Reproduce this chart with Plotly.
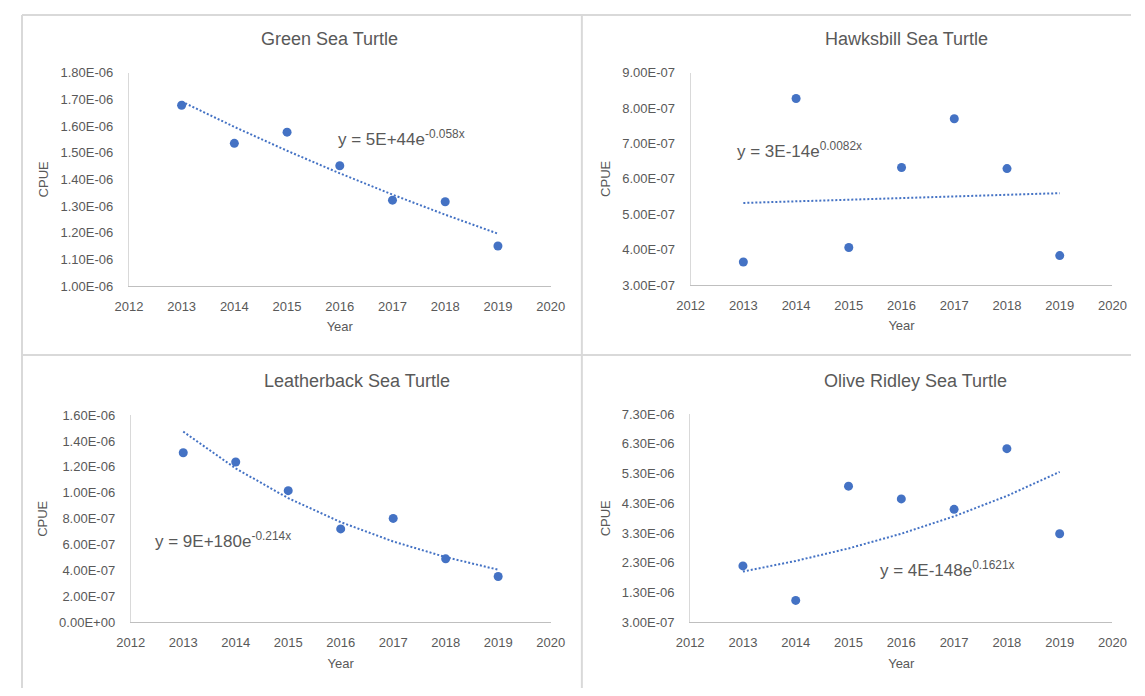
import numpy as np
import plotly.graph_objects as go

# Data (CPUE by year)
years = [2013, 2014, 2015, 2016, 2017, 2018, 2019]

green = [1.678e-06, 1.535e-06, 1.577e-06, 1.451e-06, 1.322e-06, 1.316e-06, 1.150e-06]
hawksbill = [3.65e-07, 8.27e-07, 4.06e-07, 6.32e-07, 7.70e-07, 6.29e-07, 3.83e-07]
leatherback = [1.309e-06, 1.238e-06, 1.017e-06, 7.22e-07, 8.03e-07, 4.91e-07, 3.55e-07]
olive = [2.20e-06, 1.04e-06, 4.88e-06, 4.45e-06, 4.10e-06, 6.14e-06, 3.28e-06]

titles = ["Green Sea Turtle", "Hawksbill Sea Turtle", "Leatherback Sea Turtle", "Olive Ridley Sea Turtle"]
equations = [
    "y = 5E+44e<sup>-0.058x</sup>",
    "y = 3E-14e<sup>0.0082x</sup>",
    "y = 9E+180e<sup>-0.214x</sup>",
    "y = 4E-148e<sup>0.1621x</sup>",
]

# y tick labels, Excel style
green_ticks = [1.0e-06, 1.1e-06, 1.2e-06, 1.3e-06, 1.4e-06, 1.5e-06, 1.6e-06, 1.7e-06, 1.8e-06]
green_labels = ["1.00E-06", "1.10E-06", "1.20E-06", "1.30E-06", "1.40E-06", "1.50E-06", "1.60E-06", "1.70E-06", "1.80E-06"]
hawk_ticks = [3e-07, 4e-07, 5e-07, 6e-07, 7e-07, 8e-07, 9e-07]
hawk_labels = ["3.00E-07", "4.00E-07", "5.00E-07", "6.00E-07", "7.00E-07", "8.00E-07", "9.00E-07"]
leather_ticks = [0, 2e-07, 4e-07, 6e-07, 8e-07, 1.0e-06, 1.2e-06, 1.4e-06, 1.6e-06]
leather_labels = ["0.00E+00", "2.00E-07", "4.00E-07", "6.00E-07", "8.00E-07", "1.00E-06", "1.20E-06", "1.40E-06", "1.60E-06"]
olive_ticks = [3e-07, 1.3e-06, 2.3e-06, 3.3e-06, 4.3e-06, 5.3e-06, 6.3e-06, 7.3e-06]
olive_labels = ["3.00E-07", "1.30E-06", "2.30E-06", "3.30E-06", "4.30E-06", "5.30E-06", "6.30E-06", "7.30E-06"]

x_ticks = [2012, 2013, 2014, 2015, 2016, 2017, 2018, 2019, 2020]

# the page body keeps its default 8px margin, so the figure is sized to fit the window
OFF = 8
W, H = 1145 - OFF, 696 - OFF
BLUE = "#4472C4"
GREY_TXT = "#595959"
FONT = "Liberation Sans"


def px(x):
    # window pixel -> paper x
    return max(0.0, (x - OFF) / W)


def py(y):
    # window pixel -> paper y
    return min(1.0, 1 - (y - OFF) / H)


# panel settings: series, ticks, labels, plot box (window px), title pos, equation pos
panels = [
    dict(y=green, tv=green_ticks, tt=green_labels, box=(117.6, 550, 67, 285), title=(323, 33), eq=(397, 134)),
    dict(y=hawksbill, tv=hawk_ticks, tt=hawk_labels, box=(693.5, 1126, 67, 284), title=(915, 33), eq=(805, 146)),
    dict(y=leatherback, tv=leather_ticks, tt=leather_labels, box=(119.5, 550, 417, 629), title=(351, 382), eq=(214, 545)),
    dict(y=olive, tv=olive_ticks, tt=olive_labels, box=(693, 1126, 416, 629), title=(924, 382), eq=(957, 574)),
]

fig = go.Figure()

for i, p in enumerate(panels):
    n = "" if i == 0 else str(i + 1)
    x0, x1, y0, y1 = p["box"]

    # exponential trendline fitted on the points (like Excel)
    b, ln_a = np.polyfit(years, np.log(p["y"]), 1)
    trend = np.exp(ln_a + b * np.array(years))

    fig.add_trace(go.Scatter(
        x=years, y=trend, mode="lines",
        line=dict(color=BLUE, width=2, dash="2px,2px"),
        xaxis="x" + n, yaxis="y" + n, hoverinfo="skip"))
    fig.add_trace(go.Scatter(
        x=years, y=p["y"], mode="markers",
        marker=dict(color=BLUE, size=9),
        xaxis="x" + n, yaxis="y" + n))

    ymin, ymax = p["tv"][0], p["tv"][-1]
    fig.update_layout(**{
        "xaxis" + n: dict(
            domain=[px(x0), px(x1)], anchor="y" + n,
            range=[2012, 2020], tickvals=x_ticks, showgrid=False, zeroline=False,
            showline=True, linecolor="#bfbfbf", linewidth=1, ticks="",
            ticklabelstandoff=8,
            tickfont=dict(family=FONT, size=13, color=GREY_TXT),
            title=dict(text="Year", standoff=9, font=dict(family=FONT, size=13, color=GREY_TXT))),
        "yaxis" + n: dict(
            domain=[py(y1), py(y0)], anchor="x" + n,
            range=[ymin, ymax], tickvals=p["tv"], ticktext=p["tt"],
            showgrid=False, zeroline=False,
            showline=True, linecolor="#d9d9d9", linewidth=1, ticks="",
            ticklabelstandoff=12,
            tickfont=dict(family=FONT, size=13, color=GREY_TXT),
            title=dict(text="CPUE", standoff=8, font=dict(family=FONT, size=13, color=GREY_TXT))),
    })

    fig.add_annotation(x=px(p["title"][0]), y=py(p["title"][1]), xref="paper", yref="paper",
                       text=titles[i], showarrow=False, xanchor="center", yanchor="middle",
                       font=dict(family=FONT, size=18, color=GREY_TXT))
    fig.add_annotation(x=px(p["eq"][0]), y=py(p["eq"][1]), xref="paper", yref="paper",
                       text=equations[i], showarrow=False, xanchor="center", yanchor="middle",
                       font=dict(family=FONT, size=17, color=GREY_TXT))

# light grey chart borders between the four panels
border = dict(color="#d9d9d9", width=2)
for x0, y0, x1, y1 in [(8, 8, 8, 696), (8, 8, 1145, 8), (582, 8, 582, 696), (8, 355.5, 1145, 355.5)]:
    fig.add_shape(type="line", xref="paper", yref="paper",
                  x0=px(x0), y0=py(y0), x1=px(x1), y1=py(y1), line=border)

fig.update_layout(
    width=W, height=H,
    margin=dict(l=0, r=0, t=0, b=0),
    paper_bgcolor="white", plot_bgcolor="white",
    showlegend=False,
)

fig.write_html("out.html")
